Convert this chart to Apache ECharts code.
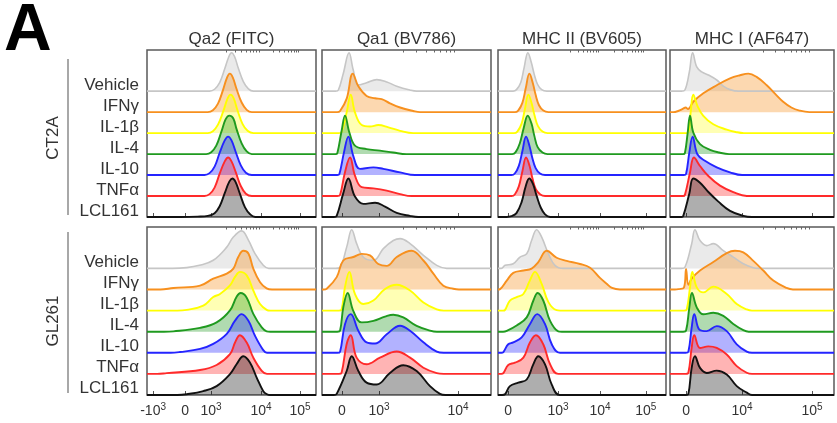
<!DOCTYPE html>
<html>
<head>
<meta charset="utf-8">
<script src="https://cdn.jsdelivr.net/npm/echarts/dist/echarts.min.js"></script>
<style>html,body{margin:0;background:#fff}#main{width:837px;height:423px}</style>
</head>
<body>
<div id="main"></div>
<script>
// samples, top to bottom in every panel
const names = ['Vehicle', 'IFNγ', 'IL-1β', 'IL-4', 'IL-10', 'TNFα', 'LCL161'];
const markers = ['Qa2 (FITC)', 'Qa1 (BV786)', 'MHC II (BV605)', 'MHC I (AF647)'];
const cellLines = ['CT2A', 'GL261'];

// axis ticks: [channel position, label]
const qa2Ticks = [[3.6, '-10^3'], [22.5, '0'], [37.9, '10^3'], [67.5, '10^4'], [90.5, '10^5']];
const qa1Ticks = [[11.8, '0'], [33.7, '10^3'], [80.5, '10^4']];
const mhc2Ticks = [[6, '0'], [35.7, '10^3'], [60.7, '10^4'], [88, '10^5']];
const mhc1Ticks = [[9.8, '0'], [43.9, '10^4'], [86.6, '10^5']];

// histograms: [channel, % of mode], one list per sample
const ct2aQa2 = [
  [[37,0],[40,5],[43,22],[46,58],[48.3,88],[50,100],[51.8,90],[54,60],[57,25],[60,6],[63,0]],
  [[36,0],[39,5],[42,22],[45,58],[47.3,89],[49,100],[50.8,90],[53,60],[56,25],[59,6],[62,0]],
  [[36,0],[39,5],[42,22],[45,55],[47.7,90],[49.5,100],[51.3,90],[53.5,60],[56.5,24],[59.5,6],[63,0]],
  [[35,0],[38,5],[41,22],[44,58],[46.5,90],[48.7,100],[51,93],[53,65],[56,28],[59,7],[62,0]],
  [[34,0],[37,5],[40,22],[43,58],[46,90],[48,100],[50,90],[52.5,60],[55.5,25],[58.5,6],[62,0]],
  [[34,0],[37,5],[40,22],[43,58],[46,90],[48,100],[50,90],[52.5,62],[55.5,26],[58.5,6],[62,0]],
  [[20,0],[30,1],[36,3],[40,10],[43,28],[46,62],[48.7,92],[50.5,100],[52.3,92],[55,60],[58,25],[61,7],[64,0]]
];
const ct2aQa1 = [
  [[8,0],[9.7,3],[12.6,46],[16,100],[18.5,55],[21.5,16],[26.4,22],[32.4,30],[38.3,24],[44.2,13],[52,3],[56,0]],
  [[9,0],[10.7,3],[14.6,35],[18.2,100],[21.5,67],[26.4,42],[31.4,36],[35.3,34],[40.2,23],[46.2,12],[54,3],[58,0]],
  [[10,0],[11.6,3],[14.6,54],[17,100],[19.5,54],[23.5,21],[28.4,17],[33.3,21],[39.3,15],[46.2,6],[54,0]],
  [[8,0],[9.1,3],[11.6,60],[13.6,100],[16.2,56],[19.5,22],[26.4,13],[34.3,9],[42.2,4],[50,0]],
  [[9,0],[10.3,3],[13,59],[15.6,100],[18.5,50],[22.5,16],[30.4,20],[36.3,16],[46.2,7],[55,0]],
  [[9,0],[10.7,3],[13.6,62],[16.6,100],[19.5,53],[23.5,23],[30.4,20],[38.3,14],[46.2,5],[53,0]],
  [[7,0],[8.7,3],[12.6,62],[15.6,100],[19.5,53],[24.5,34],[31.4,37],[37.3,27],[44.2,11],[52,3],[57,0]]
];
const ct2aMhc2 = [
  [[9,0],[11,4],[13.5,22],[15.5,60],[17.8,100],[19.8,75],[21.5,45],[23.5,18],[26,4],[29,0]],
  [[10,0],[12,4],[14.5,24],[16.5,62],[18.7,100],[20.7,76],[22.4,45],[24.4,18],[27,4],[30,0]],
  [[9.5,0],[11.5,4],[14,24],[16,62],[18.1,100],[20.1,76],[21.8,45],[23.8,18],[26.5,4],[29.5,0]],
  [[8.5,0],[10.5,5],[13,28],[15.3,68],[17.7,100],[19.9,80],[21.6,48],[23.6,18],[26.5,4],[29.5,0]],
  [[8,0],[10,4],[12.4,24],[14.5,62],[16.7,100],[18.7,76],[20.4,45],[22.4,18],[25,4],[28,0]],
  [[8,0],[10,4],[12.4,25],[14.5,64],[16.7,100],[18.8,78],[20.5,46],[22.5,18],[25.2,4],[28,0]],
  [[5,0],[8,2],[11,10],[14,38],[16.5,80],[18.6,100],[20.8,86],[23,55],[25.5,24],[28,7],[31,0]]
];
const ct2aMhc1 = [
  [[7,0],[9.1,3],[11.8,50],[13.8,100],[16.3,63],[19.3,50],[23.4,42],[28.5,29],[32.5,13],[36.6,4],[42,0]],
  [[2,0],[5,3],[8,9],[9.5,12],[11,8],[14.2,27],[20.3,49],[28.5,70],[36.6,88],[42.7,96],[47.8,100],[53,91],[59,70],[64,48],[69,27],[74,12],[79,4],[85,0]],
  [[9,0],[11.2,3],[12.6,54],[14.2,100],[16.7,71],[20.3,45],[26.4,23],[34.6,9],[40,3],[45,0]],
  [[8,0],[9.1,3],[10.8,56],[12.2,100],[14.2,56],[18.3,26],[24.4,11],[30,4],[36,0]],
  [[8.5,0],[9.8,3],[11.8,59],[13.8,100],[16.7,54],[21.3,37],[28.5,20],[36.6,7],[44,0]],
  [[8,0],[9.1,3],[12.2,61],[14.6,100],[18.3,78],[23.4,52],[30.5,27],[38.6,10],[46.8,0]],
  [[7,0],[8.1,3],[11.8,61],[14.2,100],[18.3,89],[23.4,65],[29.5,40],[36.6,16],[44.7,3],[50,0]]
];
const gl261Qa2 = [
  [[15,0],[23.5,2],[31,8],[39.2,21],[47.2,55],[51.1,81],[56,97],[60,73],[63.9,38],[68.8,8],[72,0]],
  [[8,0],[15.6,4],[31.4,10],[39.2,28],[47.2,41],[51.1,54],[54,84],[57,100],[60,93],[62.9,54],[66.9,19],[70.8,3],[74,0]],
  [[18,0],[23.5,2],[33.3,13],[39.2,35],[43.2,43],[49.1,65],[52.1,87],[55,100],[59,91],[62.9,52],[66.9,17],[70.8,2],[73,0]],
  [[10,0],[15.6,1],[31.4,10],[41.2,24],[49.1,55],[53.1,91],[55.4,100],[59,88],[62.9,46],[67.9,11],[70.8,1],[73,0]],
  [[14,0],[19.5,2],[31.4,10],[39.2,23],[47.2,49],[52.1,83],[56,100],[60,83],[63.9,44],[68.8,7],[71,0]],
  [[6,0],[11.6,2],[31.4,10],[41.2,23],[49.1,51],[52.1,81],[55,100],[59,81],[62.9,42],[67.9,8],[71,0]],
  [[18,0],[23.5,2],[33.3,10],[41.2,23],[49.1,54],[53.1,80],[57,100],[60.9,84],[64.9,45],[68.8,10],[71,2],[73,0]]
];
const gl261Qa1 = [
  [[8,0],[10.7,3],[14.6,55],[17.6,100],[20.5,64],[24.5,29],[30.4,21],[36.3,51],[42.2,72],[46.2,77],[52.1,64],[60,34],[67.9,8],[73.8,0]],
  [[1,0],[2.8,2],[8.7,32],[12.6,75],[18.5,84],[23.5,92],[28.4,88],[33.3,66],[38.3,61],[44.2,84],[53,100],[60,75],[65.9,41],[71.8,10],[77.7,2],[81,0]],
  [[10,0],[11.6,3],[13.6,61],[16.2,100],[19.5,43],[24.5,17],[30.4,26],[37.3,56],[44.2,67],[52.1,52],[60,21],[67.9,3],[72,0]],
  [[9,0],[10.7,3],[12.6,63],[15.2,100],[18.5,54],[23.5,24],[30.4,28],[37.3,39],[42.2,44],[48.1,37],[56,15],[63.9,3],[68,0]],
  [[9,0],[10.7,3],[13.6,74],[17,100],[21.5,57],[26.4,27],[31.4,24],[38.3,48],[46.2,70],[52.1,57],[60,27],[67.9,3],[72,0]],
  [[10,0],[11.6,3],[14.6,77],[17,100],[20.5,42],[26.4,25],[34.3,42],[44.2,58],[52.1,42],[60,16],[67.9,2],[72,0]],
  [[7,0],[8.7,3],[14.6,62],[17.6,100],[21.5,62],[26.4,32],[32.4,27],[40.2,57],[48.1,77],[56,62],[63.9,23],[69.8,3],[73,0]]
];
const gl261Mhc2 = [
  [[2,0],[4.2,8],[9.1,12],[13.1,29],[17.1,38],[20,72],[23,100],[26,81],[30,38],[33.9,8],[38.9,0]],
  [[0,0],[1.2,1],[5.2,23],[9.1,43],[15.1,49],[20,54],[24,71],[29,100],[34.9,82],[40.9,74],[48.8,66],[54.8,56],[60.7,30],[64.7,15],[67.9,4],[72.6,0]],
  [[3,0],[4.2,2],[7.1,26],[11.1,35],[15.1,43],[19,78],[22,100],[26,69],[30,22],[34.9,1],[37,0]],
  [[3,0],[5.2,2],[11.1,16],[17.1,37],[21,80],[23.6,100],[27,80],[31,28],[35.9,1],[38,0]],
  [[2,0],[3.2,2],[6.1,22],[9.1,27],[14.1,40],[19,74],[23.4,100],[28,74],[32,22],[36.9,0]],
  [[2,0],[3.2,2],[6.1,23],[10.1,29],[15.1,42],[19,81],[22.6,100],[27,76],[31,25],[35.9,0]],
  [[2.5,0],[4.2,2],[7.1,23],[12.1,32],[17.1,40],[21,79],[24,100],[28,79],[32,27],[36.9,0]]
];
const gl261Mhc1 = [
  [[7,0],[9.1,3],[13.2,63],[15.2,100],[18.3,72],[22.4,59],[26.4,64],[32.5,46],[38.6,29],[44.7,12],[50.8,2],[54,0]],
  [[3,0],[5.1,1],[8.5,5],[9.8,53],[11.2,12],[13.2,28],[18.3,49],[26.4,71],[34.6,94],[39.6,100],[44.7,96],[50.8,74],[56.9,49],[63,23],[71.1,4],[75,0]],
  [[8.5,0],[10.2,3],[12.2,60],[13.6,100],[16.3,60],[20.3,47],[26.4,62],[34.6,43],[40.7,17],[46.8,3],[50,0]],
  [[8,0],[9.8,3],[11.8,63],[13.4,100],[16.3,63],[20.3,45],[26.4,49],[32.5,41],[38.6,20],[44.7,4],[48,0]],
  [[9.5,0],[11.2,3],[13.2,65],[14.8,100],[17.9,60],[22.4,56],[28.5,69],[34.6,56],[40.7,22],[46.8,3],[50,0]],
  [[9.5,0],[11.2,3],[13.2,67],[14.8,100],[18.3,67],[23.4,71],[28.5,67],[34.6,50],[40.7,20],[46.8,3],[50,0]],
  [[9.5,0],[11.2,3],[13.2,70],[15.2,100],[18.3,70],[22.4,57],[28.5,63],[34.6,53],[40.7,23],[46.8,6],[50,0]]
];

const panels = [ct2aQa2, ct2aQa1, ct2aMhc2, ct2aMhc1, gl261Qa2, gl261Qa1, gl261Mhc2, gl261Mhc1];
const ticks = [qa2Ticks, qa1Ticks, mhc2Ticks, mhc1Ticks];

const lineColors = ['#c6c6c6', '#f7901e', '#ffff00', '#1f9a1f', '#2424ff', '#ff2a2a', '#111111'];
const fillColors = ['rgba(200,200,200,0.55)', 'rgba(247,144,30,0.5)', 'rgba(255,255,0,0.42)',
  'rgba(31,154,31,0.5)', 'rgba(36,36,255,0.5)', 'rgba(255,42,42,0.5)', 'rgba(0,0,0,0.45)'];

const FONT = '"Liberation Sans", Arial, sans-serif';
const S = 54.5;               // offset between stacked histograms (in % of mode)
const offsets = names.map((_, i) => (names.length - 1 - i) * S);
const colLeft = [147, 322, 498, 670];
const colWidth = [169, 169, 168, 164];
const rowTop = [50, 227];
const rowHeight = [167, 168];

function fmtTick(s) {
  const p = s.split('^');
  return p.length > 1 ? '{n|' + p[0] + '}{s|' + p[1] + '}' : '{n|' + s + '}';
}
function minorTicks(t) {
  const out = [];
  for (let i = 0; i < t.length - 1; i++) {
    if (t[i][1].indexOf('^') < 0 || t[i][1][0] === '-') continue;
    const a = t[i][0], b = t[i + 1][0];
    for (let k = 2; k < 10; k++) out.push(a + (b - a) * Math.log10(k));
  }
  return out;
}

const grid = [], xAxis = [], yAxis = [], series = [];
panels.forEach((hists, g) => {
  const row = Math.floor(g / 4), col = g % 4;
  const t = ticks[col];
  grid.push({
    left: colLeft[col], top: rowTop[row], width: colWidth[col], height: rowHeight[row],
    show: true, borderColor: '#5a5a5a', borderWidth: 1.5, backgroundColor: 'transparent'
  });
  xAxis.push({
    gridIndex: g, type: 'value', min: 0, max: 100,
    axisLine: { show: false }, splitLine: { show: false },
    axisTick: { show: true, inside: true, length: 4, customValues: t.map(d => d[0]),
      lineStyle: { color: '#555', width: 1 } },
    axisLabel: {
      show: row === 1, customValues: t.map(d => d[0]), margin: 7,
      formatter: v => { const d = t.find(e => Math.abs(e[0] - v) < 1e-6); return d ? fmtTick(d[1]) : ''; },
      rich: {
        n: { fontSize: 14, fontFamily: FONT, color: '#333', lineHeight: 18 },
        s: { fontSize: 10, fontFamily: FONT, color: '#333', lineHeight: 18, verticalAlign: 'top', padding: [0, 0, 6, 0] }
      }
    }
  });
  xAxis.push({
    gridIndex: g, type: 'value', min: 0, max: 100,
    axisLine: { show: false }, splitLine: { show: false }, axisLabel: { show: false },
    axisTick: { show: true, inside: true, length: 2.5, customValues: minorTicks(t),
      lineStyle: { color: '#666', width: 1 } }
  });
  yAxis.push({
    gridIndex: g, type: 'value', min: 0, max: 434,
    axisLine: { show: false }, axisTick: { show: false }, splitLine: { show: false },
    axisLabel: {
      show: col === 0, customValues: offsets.map(o => o + 16), margin: 8,
      fontSize: 17, fontFamily: FONT, color: '#333',
      formatter: v => names[names.length - 1 - Math.round((v - 16) / S)]
    }
  });
  hists.forEach((pts, r) => {
    const data = [[0, offsets[r]]].concat(pts.map(p => [p[0], p[1] + offsets[r]]), [[100, offsets[r]]]);
    series.push({
      type: 'line', xAxisIndex: g * 2, yAxisIndex: g, data,
      showSymbol: false, smooth: 0.4, silent: true,
      lineStyle: { color: lineColors[r], width: r === 0 ? 1.6 : 1.9 },
      areaStyle: { color: fillColors[r], origin: offsets[r] }
    });
  });
});

const graphic = [
  { type: 'text', x: 4, y: 32, style: { text: 'A', font: 'bold 66px ' + FONT, fill: '#000', verticalAlign: 'middle' } }
];
markers.forEach((m, c) => graphic.push({
  type: 'text', x: colLeft[c] + colWidth[c] / 2, y: 39,
  style: { text: m, font: '17px ' + FONT, fill: '#333', align: 'center', verticalAlign: 'middle' }
}));
const labelY = [138, 321];
const lineSpan = [[59, 215], [232, 393]];
cellLines.forEach((n, i) => {
  graphic.push({
    type: 'text', x: 53, y: labelY[i], rotation: Math.PI / 2,
    style: { text: n, font: '17px ' + FONT, fill: '#333', align: 'center', verticalAlign: 'middle' }
  });
  graphic.push({
    type: 'line', shape: { x1: 68, y1: lineSpan[i][0], x2: 68, y2: lineSpan[i][1] },
    style: { stroke: '#a8a8a8', lineWidth: 2 }
  });
});

const chart = echarts.init(document.getElementById('main'));
chart.setOption({ animation: false, grid, xAxis, yAxis, series, graphic });
</script>
</body>
</html>
